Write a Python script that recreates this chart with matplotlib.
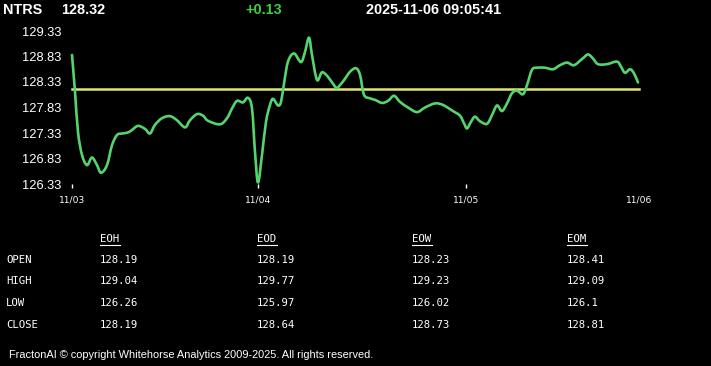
import matplotlib
matplotlib.use("Agg")
import matplotlib.pyplot as plt
from matplotlib.path import Path
from matplotlib.patches import PathPatch

# ---------------- data ----------------
symbol = "NTRS"
last_price = "128.32"
change = "+0.13"
timestamp = "2025-11-06 09:05:41"

# time index (intraday bars) and prices
t = [0, 3, 6, 10, 15, 20, 25, 29, 35, 40, 45, 50, 56, 60, 66, 73, 78, 83, 90, 98,
     105, 113, 118, 125, 131, 136, 148, 155, 160, 165, 171, 176, 180, 183, 186, 190,
     194, 198, 201, 206, 209, 212, 216, 222, 229, 233, 237, 240, 245, 250, 256, 263,
     265, 271, 278, 284, 288, 292, 298, 303, 310, 316, 322, 328, 336, 345, 353, 363,
     371, 381, 388, 392, 395, 399, 403, 408, 415, 420, 425, 430, 435, 440, 445, 451,
     455, 460, 465, 473, 481, 488, 495, 502, 510, 516, 521, 526, 535, 545, 549, 553,
     558, 562, 566]
price = [128.86, 128.14, 127.35, 126.90, 126.70, 126.85, 126.70, 126.55, 126.70,
         127.09, 127.29, 127.32, 127.34, 127.39, 127.47, 127.41, 127.32, 127.49,
         127.62, 127.66, 127.58, 127.44, 127.58, 127.70, 127.67, 127.57, 127.50,
         127.62, 127.81, 127.96, 127.93, 128.02, 127.81, 126.96, 126.36, 126.90,
         127.55, 127.88, 128.00, 127.87, 127.94, 128.30, 128.73, 128.89, 128.72,
         128.92, 129.20, 128.86, 128.37, 128.52, 128.43, 128.24, 128.21, 128.34,
         128.53, 128.60, 128.47, 128.08, 128.01, 127.98, 127.92, 127.96, 128.06,
         127.94, 127.83, 127.74, 127.83, 127.91, 127.88, 127.76, 127.67, 127.52,
         127.42, 127.55, 127.65, 127.56, 127.51, 127.68, 127.87, 127.76, 127.91,
         128.11, 128.16, 128.09, 128.27, 128.57, 128.61, 128.61, 128.58, 128.66,
         128.71, 128.66, 128.78, 128.87, 128.79, 128.68, 128.68, 128.73, 128.63,
         128.51, 128.58, 128.50, 128.32]
ref_level = 128.19

y_ticks = [126.33, 126.83, 127.33, 127.83, 128.33, 128.83, 129.33]
x_tick_pos = [0, 186, 394, 567]
x_tick_labels = ["11/03", "11/04", "11/05", "11/06"]

col_headers = ["EOH", "EOD", "EOW", "EOM"]
row_labels = ["OPEN", "HIGH", "LOW", "CLOSE"]
eoh = ["128.19", "129.04", "126.26", "128.19"]
eod = ["128.19", "129.77", "125.97", "128.64"]
eow = ["128.23", "129.23", "126.02", "128.73"]
eom = ["128.41", "129.09", "126.1", "128.81"]

footer = "FractonAI \u00a9 copyright Whitehorse Analytics 2009-2025. All rights reserved."

# ---------------- style ----------------
W, H = 711, 366
DPI = 100
BG = "black"
LINE_GREEN = "#55d46e"
REF_YELLOW = "#dde47a"
CHG_GREEN = "#3ccf3c"

sans = ["Liberation Sans", "Arimo", "DejaVu Sans"]
mono = ["DejaVu Sans Mono"]

fig = plt.figure(figsize=(W / DPI, H / DPI), dpi=DPI, facecolor=BG)


def fx(px):
    return px / W


def fy(py):
    return 1 - py / H


ax = fig.add_axes([fx(72), fy(184), fx(567), 153 / H])
ax.set_facecolor(BG)

# smooth line through the data points (Catmull-Rom rendered as cubic Beziers)
pts = list(zip(t, price))
verts = [pts[0]]
codes = [Path.MOVETO]
n = len(pts)
for i in range(n - 1):
    p0 = pts[i - 1] if i > 0 else pts[i]
    p1 = pts[i]
    p2 = pts[i + 1]
    p3 = pts[i + 2] if i + 2 < n else pts[i + 1]
    c1 = (p1[0] + (p2[0] - p0[0]) / 6, p1[1] + (p2[1] - p0[1]) / 6)
    c2 = (p2[0] - (p3[0] - p1[0]) / 6, p2[1] - (p3[1] - p1[1]) / 6)
    verts += [c1, c2, p2]
    codes += [Path.CURVE4] * 3
ax.add_patch(PathPatch(Path(verts, codes), facecolor="none", edgecolor=LINE_GREEN,
                       lw=1.9, joinstyle="round", capstyle="round", zorder=3,
                       clip_on=False))
ax.axhline(ref_level, color=REF_YELLOW, lw=1.8, zorder=2, clip_on=False)
ax.set_xlim(0, 567)
ax.set_ylim(126.33, 129.33)
for s in ax.spines.values():
    s.set_visible(False)
ax.set_yticks(y_ticks)
ax.set_yticklabels([f"{v:.2f}" for v in y_ticks])
ax.tick_params(axis="y", length=0, pad=7.5, labelcolor="white", labelsize=9.3)
for lab in ax.get_yticklabels():
    lab.set_fontfamily(sans)
ax.set_xticks(x_tick_pos)
ax.set_xticklabels(x_tick_labels)
ax.tick_params(axis="x", length=3, width=1, color="white", pad=5,
               labelcolor="white", labelsize=6.6, direction="out")
for lab in ax.get_xticklabels():
    lab.set_fontfamily("DejaVu Sans")
ax.xaxis.get_major_ticks()[-1].tick1line.set_visible(False)

# header
hdr = dict(color="white", fontsize=10.4, fontweight="bold", family=sans, va="center")
fig.text(fx(3), fy(9.5), symbol, **hdr)
fig.text(fx(61), fy(9.5), last_price, **hdr)
fig.text(fx(245), fy(9.5), change, **{**hdr, "color": CHG_GREEN})
fig.text(fx(366), fy(9.5), timestamp, **hdr)

# table
col_x = [100, 257, 412, 567]
row_y = [260, 281, 303, 325]
tb = dict(color="white", fontsize=7.7, family=mono, va="center", ha="left")
for cx, hname in zip(col_x, col_headers):
    fig.text(fx(cx), fy(239), hname, **tb)
    fig.lines.append(plt.Line2D([fx(cx), fx(cx + 20)], [fy(244.5), fy(244.5)],
                                transform=fig.transFigure, color="white", lw=0.8))
for ry, rl in zip(row_y, row_labels):
    fig.text(fx(6), fy(ry), rl, **tb)
for cx, col in zip(col_x, [eoh, eod, eow, eom]):
    for ry, v in zip(row_y, col):
        fig.text(fx(cx), fy(ry), v, **tb)

fig.text(fx(9), fy(355), footer, color="white", fontsize=7.95, family=sans,
         va="center", ha="left")

fig.savefig("out.png", dpi=DPI, facecolor=BG)
